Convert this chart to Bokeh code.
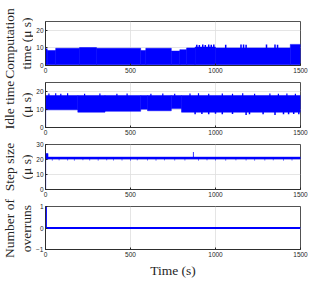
import math
from bokeh.plotting import figure
from bokeh.layouts import column, row
from bokeh.models import Range1d, FixedTicker
from bokeh.core.properties import value
from bokeh.embed import file_html
from bokeh.resources import INLINE

# ---------------- data ----------------
x_ticks = [0, 500, 1000, 1500]

y_labels = ["Computation\ntime (\u03bc s)", "Idle time\n(\u03bc s)", "Step size\n(\u03bc s)",
            "Number of\noverruns"]

# Computation time: envelope of the dense band
comp_edges = [0, 10, 60, 200, 300, 560, 590, 740, 790, 830, 880, 1000, 1440, 1500]
comp_low = [0.4, 0.4, 0.4, 0.4, 0.4, 0.4, 0.4, 0.4, 0.4, 0.4, 0.4, 0.4, 0.4]
comp_top = [9.5, 8.5, 9.8, 10.2, 9.8, 8.5, 9.8, 8.2, 9.0, 10.0, 10.5, 10.0, 12.0]
comp_spike_t = [890, 905, 925, 940, 960, 975, 990, 1060, 1150, 1165, 1180, 1300, 1350, 1365]
comp_spike_v = [11.8, 11.6, 11.9, 11.7, 11.9, 11.8, 11.9, 11.8, 11.9, 11.9, 11.8, 11.9, 11.9, 11.8]

# Idle time: envelope of the dense band
idle_edges = [0, 190, 350, 560, 600, 740, 800, 1500]
idle_low = [9.8, 8.5, 9.0, 10.2, 9.3, 10.5, 8.5]
idle_top = [17.8, 17.8, 17.8, 17.8, 17.8, 17.8, 17.8]
idle_spike_t = [20, 60, 90, 130, 230, 320, 420, 480, 620, 690, 760, 850, 900, 960,
                1040, 1100, 1160, 1230, 1320, 1370, 1420, 1470]
idle_spike_v = [18.9, 19.0, 18.8, 19.0, 18.8, 18.9, 18.8, 18.9, 18.8, 18.9, 18.8, 18.9,
                19.0, 18.8, 18.9, 18.8, 19.0, 18.8, 18.9, 18.8, 18.9, 18.8]
idle_dip_t = [880, 920, 960, 1000, 1040, 1100, 1180, 1200, 1280, 1350, 1400, 1430, 1460, 1490]
idle_dip_v = [7.4, 7.5, 7.3, 7.6, 7.4, 7.5, 7.0, 7.4, 7.3, 7.0, 7.4, 7.3, 7.5, 7.3]
idle_start_t = [0, 0]
idle_start_v = [0, 17.8]

# Step size
step_edges = [0, 15, 1500]
step_low = [20.2, 20.3]
step_top = [24.0, 21.6]
step_dip_t = [40, 80, 130, 170, 220, 260, 310, 360, 400, 450, 500, 540, 600, 650, 700,
              760, 820, 900, 950, 1000, 1060, 1120, 1180, 1230, 1290, 1340, 1400, 1450]
step_dip_v = [19.2, 19.4, 19.3, 19.2, 19.5, 19.3, 19.2, 19.4, 19.3, 19.3, 19.2, 19.4,
              19.3, 19.2, 19.4, 19.3, 19.3, 19.2, 19.4, 19.3, 19.2, 19.4, 19.3, 19.2,
              19.3, 19.4, 19.2, 19.3]
step_spike_t = [870]
step_spike_v = [25.0]
step_start_t = [0, 0]
step_start_v = [0, 24.0]

# Number of overruns
over_t = [0, 3, 3, 1500]
over_v = [1, 1, 0, 0]

BLUE = "#0000FF"
AXC = "#262626"
GRID = "#dedede"

# ---------------- layout constants ----------------
LABEL_W = 33
MAIN_W = 332 - LABEL_W
# (border top, frame height, border bottom) per panel
panel_geo = [(21, 44, 12), (5, 45, 12), (5, 45, 12), (5, 44, 30)]
TOTAL_H = sum(sum(g) for g in panel_geo)


def make_fig(geo, yr, yticks, xlabel=None):
    top, fh, bottom = geo
    p = figure(width=MAIN_W, height=top + fh + bottom, output_backend="svg",
               toolbar_location=None,
               x_range=Range1d(0, 1500), y_range=Range1d(*yr),
               min_border_left=43 - LABEL_W, min_border_right=32,
               min_border_top=top, min_border_bottom=bottom)
    p.outline_line_color = AXC
    p.outline_line_width = 0.8
    p.background_fill_color = "white"
    p.border_fill_color = "white"
    p.xaxis.ticker = FixedTicker(ticks=x_ticks)
    p.yaxis.ticker = FixedTicker(ticks=yticks)
    for ax in (p.xaxis, p.yaxis):
        ax.axis_line_color = AXC
        ax.axis_line_width = 0.8
        ax.major_tick_in = 2
        ax.major_tick_out = 0
        ax.minor_tick_line_color = None
        ax.major_tick_line_color = AXC
        ax.major_label_text_font = "Liberation Sans"
        ax.major_label_text_font_size = "6.5px"
        ax.major_label_text_color = AXC
        ax.major_label_standoff = 2
        ax.axis_label_text_font = "Liberation Serif"
        ax.axis_label_text_font_size = "13.5px"
        ax.axis_label_text_font_style = "normal"
        ax.axis_label_text_color = AXC
    if xlabel:
        p.xaxis.axis_label = xlabel
        p.xaxis.axis_label_standoff = 3
    p.xgrid.ticker = FixedTicker(ticks=x_ticks)
    p.ygrid.ticker = FixedTicker(ticks=yticks)
    p.xgrid.grid_line_color = GRID
    p.ygrid.grid_line_color = GRID
    p.xgrid.grid_line_width = 0.8
    p.ygrid.grid_line_width = 0.8
    return p


# Panel 1: computation time
p1 = make_fig(panel_geo[0], (0, 25), [0, 10, 20])
p1.quad(left=comp_edges[:-1], right=comp_edges[1:], bottom=comp_low, top=comp_top,
        fill_color=BLUE, line_color=BLUE, line_width=0.5)
p1.segment(x0=comp_spike_t, y0=[9.8] * len(comp_spike_t), x1=comp_spike_t, y1=comp_spike_v,
           line_color=BLUE, line_width=1.5)

# Panel 2: idle time
p2 = make_fig(panel_geo[1], (0, 25), [0, 10, 20])
p2.quad(left=idle_edges[:-1], right=idle_edges[1:], bottom=idle_low, top=idle_top,
        fill_color=BLUE, line_color=BLUE, line_width=0.5)
p2.segment(x0=idle_spike_t, y0=[17.5] * len(idle_spike_t), x1=idle_spike_t, y1=idle_spike_v,
           line_color=BLUE, line_width=1.2)
p2.segment(x0=idle_dip_t, y0=[9.0] * len(idle_dip_t), x1=idle_dip_t, y1=idle_dip_v,
           line_color=BLUE, line_width=1.5)
p2.line(idle_start_t, idle_start_v, line_color=BLUE, line_width=1.2)

# Panel 3: step size
p3 = make_fig(panel_geo[2], (0, 30), [0, 10, 20, 30])
p3.quad(left=step_edges[:-1], right=step_edges[1:], bottom=step_low, top=step_top,
        fill_color=BLUE, line_color=BLUE, line_width=0.5)
p3.segment(x0=step_dip_t, y0=[20.5] * len(step_dip_t), x1=step_dip_t, y1=step_dip_v,
           line_color=BLUE, line_width=0.8, line_alpha=0.7)
p3.segment(x0=step_spike_t, y0=[21.0], x1=step_spike_t, y1=step_spike_v,
           line_color=BLUE, line_width=1.0, line_alpha=0.8)
p3.line(step_start_t, step_start_v, line_color=BLUE, line_width=1.2)

# Panel 4: number of overruns
p4 = make_fig(panel_geo[3], (-1, 1), [-1, 0, 1], xlabel="Time (s)")
p4.line(over_t, over_v, line_color=BLUE, line_width=1.8)

# Left strip holding the (vertical, two-line) y-axis titles
centers = []
y_acc = 0
for top, fh, bottom in panel_geo:
    centers.append(TOTAL_H - (y_acc + top + fh / 2))
    y_acc += top + fh + bottom

lab = figure(width=LABEL_W, height=TOTAL_H, output_backend="svg", toolbar_location=None,
             x_range=Range1d(0, LABEL_W), y_range=Range1d(0, TOTAL_H),
             x_axis_location=None, y_axis_location=None,
             min_border_left=0, min_border_right=0, min_border_top=0, min_border_bottom=0)
lab.grid.visible = False
lab.outline_line_color = None
lab.background_fill_color = "white"
lab.border_fill_color = "white"
lab.text(x=[17.5] * len(y_labels), y=centers, text=y_labels, angle=math.pi / 2,
         text_align="center", text_baseline="middle",
         text_font=value("Liberation Serif"), text_font_size="13.5px",
         text_color=AXC, text_line_height=1.1)

layout = row(lab, column(p1, p2, p3, p4, spacing=0), spacing=0)
open("out.html", "w").write(file_html(layout, INLINE))
